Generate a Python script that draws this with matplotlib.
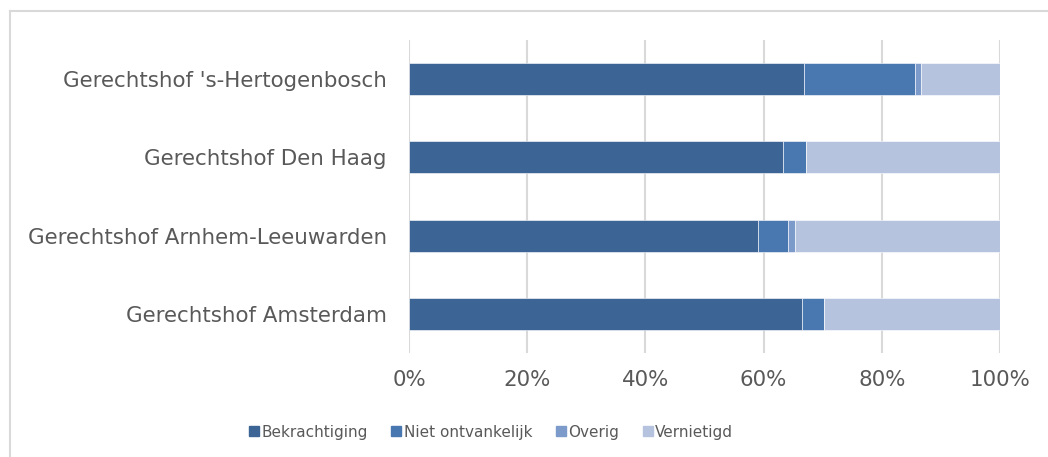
import matplotlib
matplotlib.use("Agg")
import matplotlib.pyplot as plt
from matplotlib.ticker import FuncFormatter
from matplotlib.lines import Line2D

plt.rcParams["font.family"] = ["DejaVu Sans"]

categories = ["Gerechtshof Amsterdam", "Gerechtshof Arnhem-Leeuwarden",
              "Gerechtshof Den Haag", "Gerechtshof 's-Hertogenbosch"]
series_names = ["Bekrachtiging", "Niet ontvankelijk", "Overig", "Vernietigd"]
bekrachtiging = [66.5, 59.0, 63.3, 66.9]
niet_ontvankelijk = [3.7, 5.1, 3.9, 18.7]
overig = [0.0, 1.2, 0.0, 1.1]
vernietigd = [29.8, 34.7, 32.8, 13.3]
xticks = [0, 20, 40, 60, 80, 100]

colors = ["#3C6595", "#4878AF", "#7C9BCB", "#B5C3DE"]
text_color = "#595959"

W, H = 1048, 457
fig = plt.figure(figsize=(W / 100, H / 100), dpi=100)
ax = fig.add_axes([409 / W, 1 - 353 / H, (1000 - 409) / W, (353 - 40) / H])

values = [bekrachtiging, niet_ontvankelijk, overig, vernietigd]
left = [0.0] * len(categories)
y = list(range(len(categories)))
for name, vals, c in zip(series_names, values, colors):
    ax.barh(y, vals, left=left, height=0.41, color=c, label=name,
            edgecolor="white", linewidth=0.4, zorder=3)
    left = [l + v for l, v in zip(left, vals)]

ax.set_xlim(0, 100)
ax.set_ylim(-0.5, len(categories) - 0.5)
ax.set_xticks(xticks)
ax.xaxis.set_major_formatter(FuncFormatter(lambda v, p: f"{int(v)}%"))
ax.set_yticks(y)
ax.set_yticklabels(categories)
ax.grid(axis="x", color="#D9D9D9", linewidth=1.5, zorder=0)
for s in ax.spines.values():
    s.set_visible(False)
ax.tick_params(axis="both", length=0, colors=text_color, labelsize=15.4)
ax.tick_params(axis="x", pad=12)
ax.tick_params(axis="y", pad=16)

handles = [Line2D([0], [0], marker="s", linestyle="none", markersize=7.2,
                  markerfacecolor=c, markeredgecolor=c) for c in colors]
fig.legend(handles, series_names, loc="center", bbox_to_anchor=(491 / W, 1 - 432 / H),
           ncol=4, frameon=False, fontsize=11, labelcolor=text_color,
           handlelength=0.7, handletextpad=0.15, columnspacing=1.5)

border = "#D9D9D9"
fig.add_artist(Line2D([10 / W, 1], [1 - 11 / H, 1 - 11 / H], color=border, linewidth=1.5,
                      transform=fig.transFigure))
fig.add_artist(Line2D([10 / W, 10 / W], [0, 1 - 11 / H], color=border, linewidth=1.5,
                      transform=fig.transFigure))

fig.savefig("out.png", dpi=100)
